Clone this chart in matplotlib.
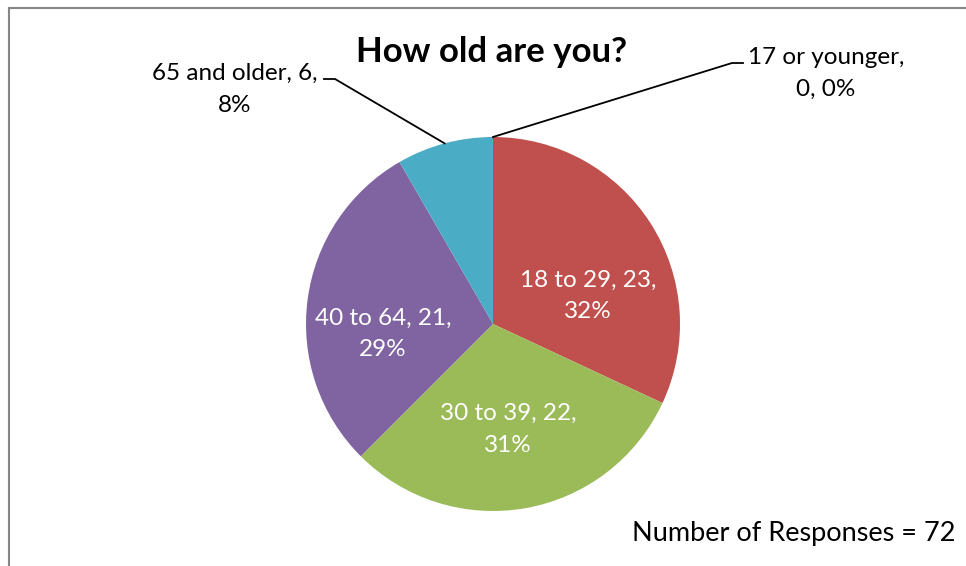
import numpy as np
import matplotlib
matplotlib.use("Agg")
import matplotlib.pyplot as plt
from matplotlib.lines import Line2D

plt.rcParams['font.family'] = ['Lato', 'DejaVu Sans']

# survey answers, clockwise from 12 o'clock
groups = ['17 or younger', '18 to 29', '30 to 39', '40 to 64', '65 and older']
counts = [0, 23, 22, 21, 6]
colors = ['#4F81BD', '#C0504D', '#9BBB59', '#8064A2', '#4BACC6']
total = sum(counts)

W, H = 966, 566
fig = plt.figure(figsize=(W / 100, H / 100), dpi=100)

# thin grey chart border (runs off the right/bottom edge)
fig.add_artist(Line2D([9 / W, 1.0], [1 - 8 / H, 1 - 8 / H], color='#868686', lw=1.5))
fig.add_artist(Line2D([9 / W, 9 / W], [0, 1 - 8 / H], color='#868686', lw=1.5))

# pie centre and radius in pixels
cx, cy, rad = 493, 324, 187
ax = fig.add_axes([(cx - rad) / W, (H - cy - rad) / H, 2 * rad / W, 2 * rad / H])
wedges, _ = ax.pie(counts, colors=colors, startangle=90, counterclock=False,
                   radius=1.0, wedgeprops=dict(linewidth=0))
ax.set_xlim(-1, 1)
ax.set_ylim(-1, 1)
ax.set_axis_off()


def px(x, y):
    # pixel position -> pie data coords
    return (x - cx) / rad, (cy - y) / rad


def label(i):
    pct = round(100 * counts[i] / total)
    return '%s, %d,' % (groups[i], counts[i]), '%d%%' % pct


fs = 17.5
line_gap = 32

# labels inside the larger slices
inside = {1: (588, 280), 2: (508, 413), 3: (383, 318)}
for i, (x, y) in inside.items():
    l1, l2 = label(i)
    ax.text(*px(x, y), l1, color='white', fontsize=fs, ha='center', va='center')
    ax.text(*px(x, y + line_gap), l2, color='white', fontsize=fs, ha='center', va='center')

# outside labels with leader lines
for i, (tx, ty, lx) in {0: (826, 57, 743), 4: (235, 73, 324)}.items():
    start = 90 - 360 * (sum(counts[:i]) + counts[i] / 2) / total
    ex, ey = np.cos(np.radians(start)), np.sin(np.radians(start))
    kx = lx - 11 if i == 0 else lx + 11
    hx, hy = px(kx, 63 if i == 0 else 79)
    ex2, _ = px(lx, 0)
    ax.plot([ex, hx, ex2], [ey, hy, hy], color='black', lw=1.3, clip_on=False)
    if i == 0:
        l1 = '%s,' % groups[i]
        l2 = '%d, %d%%' % (counts[i], round(100 * counts[i] / total))
    else:
        l1, l2 = label(i)
    ax.text(*px(tx, ty), l1, color='black', fontsize=fs, ha='center', va='center', clip_on=False)
    ax.text(*px(tx, ty + line_gap), l2, color='black', fontsize=fs, ha='center', va='center', clip_on=False)

fig.text(492 / W, 1 - 52 / H, 'How old are you?', fontsize=25, fontweight='bold',
         ha='center', va='center')
fig.text(955 / W, 1 - 534 / H, 'Number of Responses = %d' % total, fontsize=19.5,
         ha='right', va='center')

fig.savefig('out.png', dpi=100)
